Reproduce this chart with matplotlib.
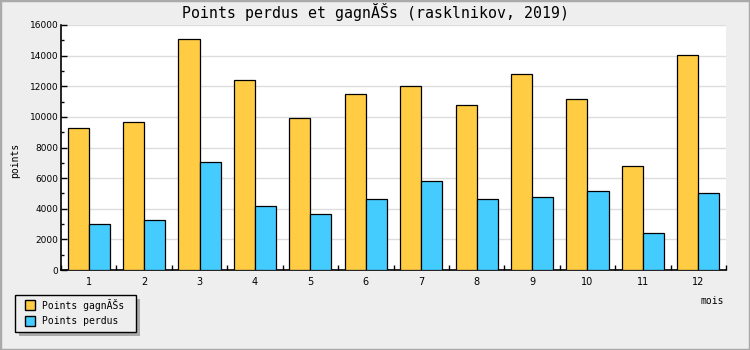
import matplotlib
matplotlib.use("Agg")
import matplotlib.pyplot as plt
import numpy as np
from matplotlib.patches import Rectangle

# monthly values
mois = [1, 2, 3, 4, 5, 6, 7, 8, 9, 10, 11, 12]
gagnes = [9270, 9660, 15080, 12400, 9920, 11490, 12010, 10770, 12820, 11160, 6780, 14060]
perdus = [2990, 3250, 7040, 4160, 3640, 4620, 5800, 4620, 4750, 5150, 2400, 5010]

c_gagnes = '#ffcc44'
c_perdus = '#44ccff'
bg = '#eeeeee'
mono = 'DejaVu Sans Mono'
narrow = ['Liberation Sans Narrow', 'DejaVu Sans']

fig = plt.figure(figsize=(7.5, 3.5), dpi=100, facecolor=bg)
ax = fig.add_axes([61/750, 80/350, 665/750, 245/350])
ax.set_facecolor('white')

x = np.arange(1, len(mois) + 1)
w = 0.38
ax.bar(x - w/2, gagnes, w, color=c_gagnes, edgecolor='black', lw=0.9, zorder=3)
ax.bar(x + w/2, perdus, w, color=c_perdus, edgecolor='black', lw=0.9, zorder=3)

ax.set_xlim(0.5, len(mois) + 0.5)
ax.set_ylim(0, 16000)

# grid
ax.set_yticks(np.arange(0, 16001, 2000))
ax.set_yticks(np.arange(1000, 16000, 2000), minor=True)
ax.yaxis.grid(True, color='#dddddd', lw=1, zorder=0)
ax.tick_params(axis='y', which='major', direction='in', length=4.3, width=1, pad=2)
ax.tick_params(axis='y', which='minor', direction='in', length=2.2, width=1)
for lab in ax.get_yticklabels():
    lab.set_family(narrow)
    lab.set_fontsize(6.5)

# x ticks at group boundaries, labels centred
ax.set_xticks(np.arange(0.5, len(mois) + 1, 1))
ax.set_xticklabels([])
ax.set_xticks(x, minor=True)
ax.set_xticklabels([str(m) for m in mois], minor=True)
ax.tick_params(axis='x', which='major', direction='in', length=3.6, width=1)
ax.tick_params(axis='x', which='minor', length=0, pad=5)
for lab in ax.get_xticklabels(minor=True):
    lab.set_family(narrow)
    lab.set_fontsize(7)

for s in ['top', 'right']:
    ax.spines[s].set_visible(False)
for s in ['left', 'bottom']:
    ax.spines[s].set_linewidth(1.2)

fig.text(0.5, 1 - 12/350, 'Points perdus et gagnĂŠs (rasklnikov, 2019)',
         ha='center', va='center', family=mono, fontsize=10.7)
fig.text(15/750, 1 - 160/350, 'points', rotation=90, ha='center', va='center',
         family=mono, fontsize=7)
fig.text(724/750, 1 - 301/350, 'mois', ha='right', va='center', family=mono, fontsize=7)

# legend with shadow
lx0, ly0, lw_, lh_ = 15/750, 1 - 332/350, 121/750, 37/350
fig.patches.append(Rectangle((lx0 + 4/750, ly0 - 4/350), lw_, lh_, transform=fig.transFigure,
                             facecolor='#aaaaaa', edgecolor='none', zorder=1))
fig.patches.append(Rectangle((lx0, ly0), lw_, lh_, transform=fig.transFigure,
                             facecolor=bg, edgecolor='black', lw=1, zorder=2))
for i, (lab, col) in enumerate([('Points gagnĂŠs', c_gagnes), ('Points perdus', c_perdus)]):
    yc = 1 - (305 + 16*i)/350
    fig.patches.append(Rectangle((25/750, yc - 5/350), 10/750, 10/350, transform=fig.transFigure,
                                 facecolor=col, edgecolor='black', lw=1, zorder=3))
    fig.text(42/750, yc, lab, ha='left', va='center', family=mono, fontsize=7, zorder=4)

# outer border
fig.patches.append(Rectangle((0, 0), 1, 1, transform=fig.transFigure, fill=False,
                             edgecolor='#aaaaaa', lw=2.5, zorder=5))

fig.savefig('out.png', dpi=100, facecolor=bg)
